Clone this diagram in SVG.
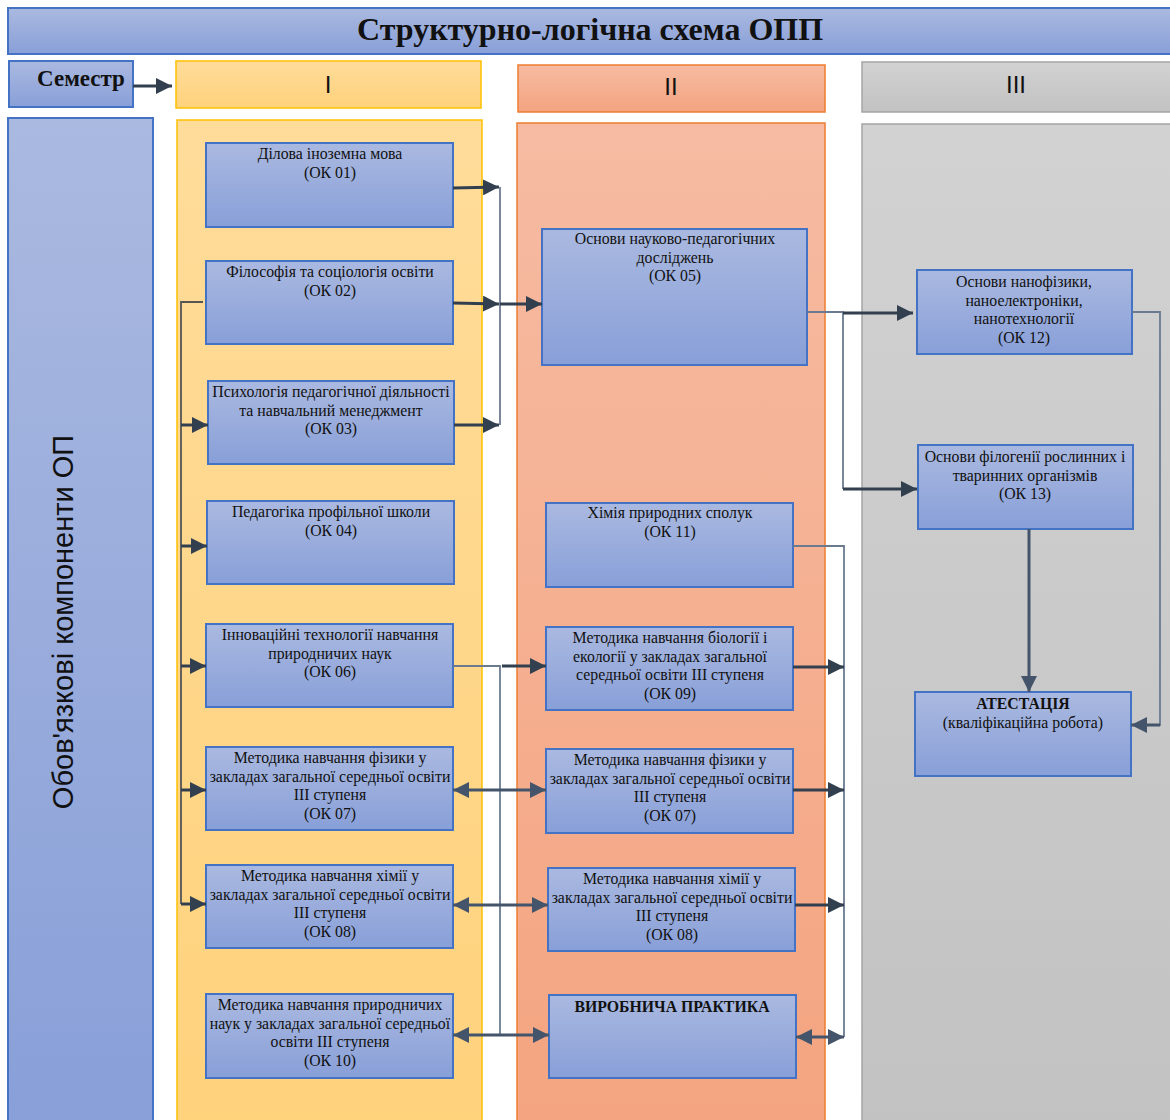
<svg xmlns="http://www.w3.org/2000/svg" width="1170" height="1120" viewBox="0 0 1170 1120">
<defs>
<linearGradient id="gBlue" x1="0" y1="0" x2="0" y2="1"><stop offset="0" stop-color="#AAB9E0"/><stop offset="1" stop-color="#889FD8"/></linearGradient>
<linearGradient id="gY" x1="0" y1="0" x2="0" y2="1"><stop offset="0" stop-color="#FFDC9A"/><stop offset="1" stop-color="#FFD27C"/></linearGradient>
<linearGradient id="gO" x1="0" y1="0" x2="0" y2="1"><stop offset="0" stop-color="#F6BBA2"/><stop offset="1" stop-color="#F4A480"/></linearGradient>
<linearGradient id="gG" x1="0" y1="0" x2="0" y2="1"><stop offset="0" stop-color="#D2D2D2"/><stop offset="1" stop-color="#C2C2C2"/></linearGradient>
<marker id="ar" viewBox="0 0 16 16" refX="16" refY="8" markerWidth="16" markerHeight="16" markerUnits="userSpaceOnUse" orient="auto"><path d="M0,0 L16,8 L0,16 z" fill="#323F4F"/></marker>
<marker id="ar2" viewBox="0 0 16 16" refX="16" refY="8" markerWidth="16" markerHeight="16" markerUnits="userSpaceOnUse" orient="auto-start-reverse"><path d="M0,0 L16,8 L0,16 z" fill="#44546A"/></marker>
</defs>
<style>
.node rect{fill:url(#gBlue);stroke:#4472C4;stroke-width:2}
.node text,.t{font-family:"Liberation Serif","Times New Roman",serif;font-size:15.8px;fill:#111;text-anchor:middle}
.b{font-weight:bold}
.thick{stroke:#323F4F;stroke-width:3;fill:none}
.dbl{stroke:#44546A;stroke-width:3;fill:none}
.thin{stroke:#6B7A8F;stroke-width:1.8;fill:none}
.bus{stroke:#555;stroke-width:1.8;fill:none}
.roman{font-family:"Liberation Sans",Arial,sans-serif;font-size:24px;fill:#111;text-anchor:middle}
</style>

<!-- backgrounds -->
<g id="columns">
<rect x="176" y="61" width="305" height="47" fill="url(#gY)" stroke="#FFC000" stroke-width="1.5"/>
<rect x="177" y="120" width="305" height="1010" fill="url(#gY)" stroke="#FFC000" stroke-width="1.5"/>
<rect x="518" y="65" width="307" height="47" fill="url(#gO)" stroke="#ED7D31" stroke-width="1.5"/>
<rect x="517" y="123" width="308" height="1010" fill="url(#gO)" stroke="#ED7D31" stroke-width="1.5"/>
<rect x="862" y="62" width="320" height="50" fill="url(#gG)" stroke="#A5A5A5" stroke-width="1.5"/>
<rect x="862" y="124" width="320" height="1010" fill="url(#gG)" stroke="#A5A5A5" stroke-width="1.5"/>
<text class="roman" x="328" y="93">I</text>
<text class="roman" x="671" y="95">II</text>
<text class="roman" x="1016" y="93">III</text>
</g>

<g id="title" class="node">
<rect x="8" y="8" width="1175" height="46"/>
<text x="590" y="40" class="b" style="font-size:32px">Структурно-логічна схема ОПП</text>
</g>
<g id="semestr" class="node">
<rect x="9" y="61" width="124" height="46"/>
<text x="81" y="86" class="b" style="font-size:23px">Семестр</text>
</g>
<g id="mandatory" class="node">
<rect x="8" y="118" width="145" height="1015"/>
<text transform="translate(73,622) rotate(-90)" style="font-family:'Liberation Sans',Arial,sans-serif;font-size:29px">Обов'язкові компоненти ОП</text>
</g>

<!-- Column I -->
<g id="ok01" class="node"><rect x="206" y="143" width="247" height="84"/>
<text x="330" y="159">Ділова іноземна мова<tspan x="330" dy="18.5">(ОК 01)</tspan></text></g>
<g id="ok02" class="node"><rect x="206" y="261" width="247" height="83"/>
<text x="330" y="277">Філософія та соціологія освіти<tspan x="330" dy="18.5">(ОК 02)</tspan></text></g>
<g id="ok03" class="node"><rect x="208" y="381" width="246" height="83"/>
<text x="331" y="397">Психологія педагогічної діяльності<tspan x="331" dy="18.5">та навчальний менеджмент</tspan><tspan x="331" dy="18.5">(ОК 03)</tspan></text></g>
<g id="ok04" class="node"><rect x="207" y="501" width="247" height="83"/>
<text x="331" y="517">Педагогіка профільної школи<tspan x="331" dy="18.5">(ОК 04)</tspan></text></g>
<g id="ok06" class="node"><rect x="206" y="624" width="247" height="83"/>
<text x="330" y="640">Інноваційні технології навчання<tspan x="330" dy="18.5">природничих наук</tspan><tspan x="330" dy="18.5">(ОК 06)</tspan></text></g>
<g id="ok07a" class="node"><rect x="206" y="747" width="247" height="83"/>
<text x="330" y="763">Методика навчання фізики у<tspan x="330" dy="18.5">закладах загальної середньої освіти</tspan><tspan x="330" dy="18.5">ІІІ ступеня</tspan><tspan x="330" dy="18.5">(ОК 07)</tspan></text></g>
<g id="ok08a" class="node"><rect x="206" y="865" width="247" height="83"/>
<text x="330" y="881">Методика навчання хімії у<tspan x="330" dy="18.5">закладах загальної середньої освіти</tspan><tspan x="330" dy="18.5">ІІІ ступеня</tspan><tspan x="330" dy="18.5">(ОК 08)</tspan></text></g>
<g id="ok10" class="node"><rect x="206" y="994" width="247" height="84"/>
<text x="330" y="1010">Методика навчання природничих<tspan x="330" dy="18.5">наук у закладах загальної середньої</tspan><tspan x="330" dy="18.5">освіти ІІІ ступеня</tspan><tspan x="330" dy="18.5">(ОК 10)</tspan></text></g>

<!-- Column II -->
<g id="ok05" class="node"><rect x="542" y="229" width="265" height="136"/>
<text x="675" y="244">Основи науково-педагогічних<tspan x="675" dy="18.5">досліджень</tspan><tspan x="675" dy="18.5">(ОК 05)</tspan></text></g>
<g id="ok11" class="node"><rect x="546" y="503" width="247" height="84"/>
<text x="670" y="518">Хімія природних сполук<tspan x="670" dy="18.5">(ОК 11)</tspan></text></g>
<g id="ok09" class="node"><rect x="546" y="627" width="247" height="83"/>
<text x="670" y="643">Методика навчання біології і<tspan x="670" dy="18.5">екології у закладах загальної</tspan><tspan x="670" dy="18.5">середньої освіти ІІІ ступеня</tspan><tspan x="670" dy="18.5">(ОК 09)</tspan></text></g>
<g id="ok07b" class="node"><rect x="546" y="749" width="247" height="84"/>
<text x="670" y="765">Методика навчання фізики у<tspan x="670" dy="18.5">закладах загальної середньої освіти</tspan><tspan x="670" dy="18.5">ІІІ ступеня</tspan><tspan x="670" dy="18.5">(ОК 07)</tspan></text></g>
<g id="ok08b" class="node"><rect x="548" y="868" width="247" height="83"/>
<text x="672" y="884">Методика навчання хімії у<tspan x="672" dy="18.5">закладах загальної середньої освіти</tspan><tspan x="672" dy="18.5">ІІІ ступеня</tspan><tspan x="672" dy="18.5">(ОК 08)</tspan></text></g>
<g id="practice" class="node"><rect x="549" y="995" width="247" height="83"/>
<text x="672" y="1012" class="b">ВИРОБНИЧА ПРАКТИКА</text></g>

<!-- Column III -->
<g id="ok12" class="node"><rect x="917" y="270" width="215" height="84"/>
<text x="1024" y="287">Основи нанофізики,<tspan x="1024" dy="18.5">наноелектроніки,</tspan><tspan x="1024" dy="18.5">нанотехнології</tspan><tspan x="1024" dy="18.5">(ОК 12)</tspan></text></g>
<g id="ok13" class="node"><rect x="918" y="445" width="215" height="84"/>
<text x="1025" y="462">Основи філогенії рослинних і<tspan x="1025" dy="18.5">тваринних організмів</tspan><tspan x="1025" dy="18.5">(ОК 13)</tspan></text></g>
<g id="atest" class="node"><rect x="915" y="692" width="216" height="84"/>
<text x="1023" y="709" class="b">АТЕСТАЦІЯ<tspan x="1023" dy="19" style="font-weight:normal">(кваліфікаційна робота)</tspan></text></g>

<!-- Connectors -->
<g id="connectors">
<path class="thick" d="M133,86 H172" marker-end="url(#ar)"/>
<!-- OK01-03 to OK05 -->
<path class="thick" d="M453,188 L499,187" marker-end="url(#ar)"/>
<path class="thick" d="M453,303 L499,304" marker-end="url(#ar)"/>
<path class="thick" d="M454,425 H499" marker-end="url(#ar)"/>
<path class="thin" d="M500,187 V425"/>
<path class="thick" d="M500,304 H542" marker-end="url(#ar)"/>
<!-- left bus -->
<path class="bus" d="M203,302 H181 V904"/>
<path class="thick" d="M181,425 H208" marker-end="url(#ar)"/>
<path class="thick" d="M181,546 H207" marker-end="url(#ar)"/>
<path class="thick" d="M181,666 H206" marker-end="url(#ar)"/>
<path class="thick" d="M181,790 H206" marker-end="url(#ar)"/>
<path class="thick" d="M181,904 H206" marker-end="url(#ar)"/>
<!-- OK06 to column II -->
<path class="thin" d="M453,666 H500 V1035"/>
<path class="thick" d="M502,666 H546" marker-end="url(#ar)"/>
<path class="dbl" d="M453,790 H546" marker-start="url(#ar2)" marker-end="url(#ar2)"/>
<path class="dbl" d="M453,905 H548" marker-start="url(#ar2)" marker-end="url(#ar2)"/>
<path class="dbl" d="M453,1035 H549" marker-start="url(#ar2)" marker-end="url(#ar2)"/>
<!-- OK05 to III -->
<path class="thin" d="M807,312 H843 V489"/>
<path class="thick" d="M843,313 H913" marker-end="url(#ar)"/>
<path class="thick" d="M843,489 H917" marker-end="url(#ar)"/>
<!-- right bus column II -->
<path class="thin" d="M793,546 H844 V1037"/>
<path class="thick" d="M793,667 H844" marker-end="url(#ar)"/>
<path class="thick" d="M793,790 H844" marker-end="url(#ar)"/>
<path class="thick" d="M795,905 H844" marker-end="url(#ar)"/>
<path class="dbl" d="M796,1037 H844" marker-start="url(#ar2)" marker-end="url(#ar2)"/>
<!-- column III -->
<path class="dbl" d="M1029,529 V692" marker-end="url(#ar2)"/>
<path class="thin" d="M1132,312 H1160 V725 H1148"/>
<path class="dbl" d="M1160,725 H1131" marker-end="url(#ar2)"/>
</g>
</svg>
